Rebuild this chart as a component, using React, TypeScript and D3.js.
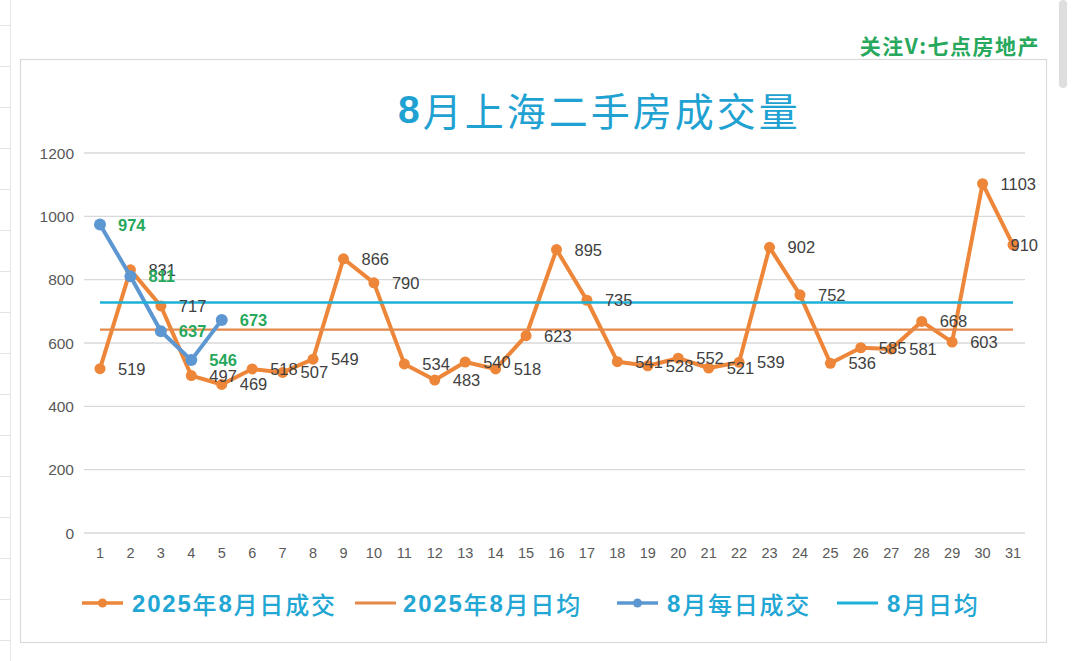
import React from 'react';
import * as d3 from 'd3';

// ---- data ----
const dayLabels = ['1','2','3','4','5','6','7','8','9','10','11','12','13','14','15','16','17','18','19','20','21','22','23','24','25','26','27','28','29','30','31'];
const deals2025Aug = [519, 831, 717, 497, 469, 518, 507, 549, 866, 790, 534, 483, 540, 518, 623, 895, 735, 541, 528, 552, 521, 539, 902, 752, 536, 585, 581, 668, 603, 1103, 910];
const dealsAugNow = [974, 811, 637, 546, 673];
const avg2025Aug = 642;
const avgAugNow = 728;
const yTicks = [0, 200, 400, 600, 800, 1000, 1200];
const seriesNames = ['2025年8月日成交', '2025年8月日均', '8月每日成交', '8月日均'];
const titleText = '8月上海二手房成交量';
const watermark = '关注V:七点房地产';

const ORANGE = '#ED8638';
const ORANGE_AVG = '#E4894A';
const BLUE = '#5D97D2';
const CYAN = '#1DB1D7';
const LABEL = '#404040';
const GREEN = '#27A85C';
const TEXT_CYAN = '#22A6D3';

const W = 1080, H = 661;
const LABEL_RIGHT_LIMIT = 1038;

export default function App() {
  const x = d3.scalePoint<string>().domain(dayLabels).range([100, 1013]);
  const y = d3.scaleLinear().domain([0, 1200]).range([533, 153]);
  const line = d3.line<[number, number]>().x(d => d[0]).y(d => d[1]);

  const orangePts: [number, number][] = deals2025Aug.map((v, i) => [x(dayLabels[i])!, y(v)]);
  const bluePts: [number, number][] = dealsAugNow.map((v, i) => [x(dayLabels[i])!, y(v)]);
  const x0 = x(dayLabels[0])!;
  const x1 = x(dayLabels[dayLabels.length - 1])!;

  const numFont = '"Liberation Sans", Arial, sans-serif';
  const cjkFont = '"Noto Sans CJK SC", "Noto Sans", sans-serif';

  const legend = [
    { name: seriesNames[0], color: ORANGE, marker: true, lx: 82, tx: 132 },
    { name: seriesNames[1], color: ORANGE_AVG, marker: false, lx: 355, tx: 403 },
    { name: seriesNames[2], color: BLUE, marker: true, lx: 617, tx: 667 },
    { name: seriesNames[3], color: CYAN, marker: false, lx: 837, tx: 887 },
  ];

  const spreadsheetLines = d3.range(0, 17).map(i => 25 + i * 41);

  const labelPos = (px: number, v: number) => {
    const w = String(v).length * 9.2;
    const lx = px + 18;
    if (lx + w > LABEL_RIGHT_LIMIT) return { x: LABEL_RIGHT_LIMIT, anchor: 'end' as const };
    return { x: lx, anchor: 'start' as const };
  };

  return (
    <svg width={W} height={H} style={{ position: 'fixed', left: 0, top: 0, background: '#fff' }}>
      <rect x={0} y={0} width={W} height={H} fill="#fff" />
      {/* spreadsheet residue on left */}
      <line x1={10.5} x2={10.5} y1={0} y2={H} stroke="#e6e6e6" />
      {spreadsheetLines.map((yy, i) => (
        <line key={i} x1={0} x2={10} y1={yy + 0.5} y2={yy + 0.5} stroke="#e3e3e3" />
      ))}
      {/* scrollbar */}
      <rect x={1059} y={0} width={8} height={88} rx={4} fill="#dedede" />

      {/* watermark */}
      <text x={1040} y={45} textAnchor="end" dominantBaseline="central" fill={GREEN}
        style={{ fontFamily: cjkFont, fontWeight: 700, fontSize: 21, letterSpacing: 1.5 }}>{watermark}</text>

      {/* chart border */}
      <rect x={20.5} y={59.5} width={1026} height={583} fill="#fff" stroke="#dadada" strokeWidth={1.2} />

      {/* title */}
      <text x={398} y={109} dominantBaseline="central" fill="#1FA2D2"
        style={{ fontFamily: cjkFont, fontSize: 39, letterSpacing: 3 }}>
        <tspan style={{ fontFamily: numFont, fontWeight: 700 }}>{titleText.slice(0, 1)}</tspan>
        <tspan>{titleText.slice(1)}</tspan>
      </text>

      {/* gridlines and y ticks */}
      {yTicks.map(t => (
        <g key={t}>
          <line x1={84} x2={1025} y1={y(t)} y2={y(t)} stroke="#d9d9d9" strokeWidth={1.3} />
          <text x={74} y={y(t)} textAnchor="end" dominantBaseline="central" fill="#595959"
            style={{ fontFamily: numFont, fontSize: 15.5 }}>{t}</text>
        </g>
      ))}
      {/* x ticks */}
      {dayLabels.map(d => (
        <text key={d} x={x(d)} y={553} textAnchor="middle" dominantBaseline="central" fill="#595959"
          style={{ fontFamily: numFont, fontSize: 14.5 }}>{d}</text>
      ))}

      {/* series 1: orange daily */}
      <path d={line(orangePts)!} fill="none" stroke={ORANGE} strokeWidth={4} strokeLinejoin="round" />
      {orangePts.map((p, i) => <circle key={i} cx={p[0]} cy={p[1]} r={5.5} fill={ORANGE} />)}

      {/* series 2: orange average */}
      <line x1={x0} x2={x1} y1={y(avg2025Aug)} y2={y(avg2025Aug)} stroke={ORANGE_AVG} strokeWidth={2.2} />

      {/* series 3: blue daily */}
      <path d={line(bluePts)!} fill="none" stroke={BLUE} strokeWidth={4} strokeLinejoin="round" />
      {bluePts.map((p, i) => <circle key={i} cx={p[0]} cy={p[1]} r={6} fill={BLUE} />)}

      {/* series 4: cyan average */}
      <line x1={x0} x2={x1} y1={y(avgAugNow)} y2={y(avgAugNow)} stroke={CYAN} strokeWidth={2.6} />

      {/* labels */}
      {orangePts.map((p, i) => {
        const lp = labelPos(p[0], deals2025Aug[i]);
        return (
          <text key={'o' + i} x={lp.x} y={p[1]} textAnchor={lp.anchor} dominantBaseline="central" fill={LABEL}
            style={{ fontFamily: numFont, fontSize: 16.5 }}>{deals2025Aug[i]}</text>
        );
      })}
      {bluePts.map((p, i) => (
        <text key={'b' + i} x={p[0] + 18} y={p[1]} dominantBaseline="central" fill={GREEN}
          style={{ fontFamily: numFont, fontSize: 16.5, fontWeight: 700 }}>{dealsAugNow[i]}</text>
      ))}

      {/* legend */}
      {legend.map((l, i) => (
        <g key={i}>
          <line x1={l.lx} x2={l.lx + 41} y1={603} y2={603} stroke={l.color} strokeWidth={l.marker ? 3.5 : 2.8} />
          {l.marker && <circle cx={l.lx + 20.5} cy={603} r={4.5} fill={l.color} />}
          <text x={l.tx} y={603} dominantBaseline="central" fill={TEXT_CYAN}
            style={{ fontFamily: cjkFont, fontSize: 24, fontWeight: 500, letterSpacing: 1.8 }}>
            {l.name.split(/([0-9]+)/).filter(s => s.length).map((s, k) => (
              /[0-9]/.test(s)
                ? <tspan key={k} style={{ fontFamily: numFont, fontWeight: 700 }}>{s}</tspan>
                : <tspan key={k}>{s}</tspan>
            ))}
          </text>
        </g>
      ))}
    </svg>
  );
}
